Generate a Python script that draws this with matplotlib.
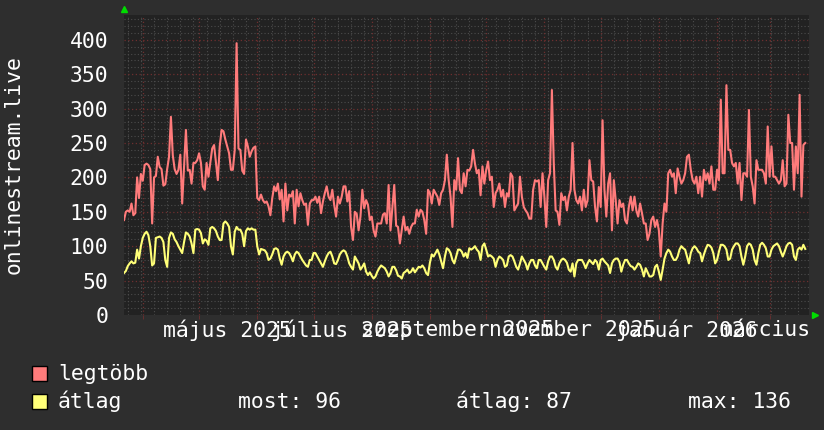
import matplotlib
matplotlib.use("Agg")
import matplotlib.pyplot as plt
import pandas as pd
from matplotlib.patches import Rectangle

plt.rcParams['font.family'] = ['DejaVu Sans Mono']

# daily values, 2025-03-22 .. 2026-03-20
legtobb = [
    138, 150, 152, 150, 162, 145, 148, 200, 170, 205, 195, 218, 220, 218, 212, 133, 200, 202, 230, 215,
    212, 188, 190, 212, 230, 288, 232, 212, 205, 211, 233, 162, 215, 269, 210, 211, 191, 221, 221, 225,
    235, 221, 187, 182, 221, 201, 221, 242, 247, 221, 196, 245, 269, 267, 255, 245, 235, 211, 211, 240,
    395, 242, 240, 210, 205, 255, 245, 230, 238, 243, 245, 170, 167, 175, 167, 163, 165, 158, 145, 170,
    187, 180, 191, 168, 182, 136, 191, 152, 175, 172, 180, 133, 182, 158, 177, 167, 160, 162, 131, 162,
    167, 167, 172, 163, 172, 148, 165, 177, 187, 172, 167, 182, 160, 143, 172, 162, 172, 187, 187, 165,
    180, 128, 109, 150, 147, 123, 143, 182, 155, 167, 160, 138, 143, 123, 114, 133, 133, 133, 146, 148,
    133, 189, 123, 157, 189, 130, 128, 104, 123, 143, 123, 128, 118, 128, 133, 133, 153, 143, 153, 150,
    138, 118, 182, 177, 162, 182, 177, 172, 160, 177, 182, 196, 233, 196, 172, 128, 196, 182, 228, 182,
    177, 206, 187, 211, 210, 216, 240, 220, 206, 211, 174, 216, 191, 211, 223, 196, 201, 157, 177, 182,
    191, 172, 182, 157, 177, 172, 206, 201, 152, 157, 162, 201, 172, 157, 152, 148, 140, 140, 182, 196,
    194, 196, 157, 206, 172, 128, 196, 206, 327, 221, 152, 150, 131, 177, 167, 172, 152, 172, 182, 250,
    182, 167, 162, 172, 152, 182, 157, 167, 225, 196, 194, 157, 136, 186, 157, 283, 182, 143, 191, 206,
    123, 196, 167, 133, 167, 157, 162, 138, 133, 157, 172, 152, 172, 152, 143, 162, 148, 133, 133, 109,
    118, 138, 143, 128, 138, 123, 85, 133, 162, 150, 206, 211, 201, 206, 177, 213, 201, 191, 196, 206,
    230, 233, 211, 196, 191, 201, 177, 201, 172, 211, 196, 206, 191, 216, 182, 182, 211, 196, 313, 206,
    206, 334, 240, 240, 221, 216, 221, 191, 221, 167, 206, 206, 201, 298, 201, 187, 162, 225, 211, 211,
    211, 206, 191, 274, 201, 245, 201, 201, 196, 191, 196, 225, 187, 191, 291, 250, 250, 182, 245, 206,
    320, 172, 247, 250,
]

atlag = [
    61, 64, 71, 75, 78, 75, 76, 95, 82, 100, 112, 118, 121, 116, 100, 72, 75, 112, 113, 114,
    112, 106, 80, 70, 112, 120, 118, 110, 106, 100, 95, 90, 106, 120, 118, 114, 104, 90, 124, 125,
    124, 119, 104, 110, 108, 102, 126, 128, 126, 122, 114, 109, 109, 133, 136, 133, 128, 100, 88, 121,
    128, 124, 124, 118, 100, 122, 126, 124, 126, 124, 124, 100, 88, 96, 95, 94, 90, 80, 82, 88,
    96, 97, 95, 82, 73, 85, 90, 92, 90, 85, 78, 88, 92, 90, 85, 80, 76, 72, 70, 80,
    80, 90, 90, 85, 80, 75, 70, 78, 85, 90, 92, 85, 75, 74, 80, 88, 92, 94, 92, 85,
    75, 70, 66, 85, 80, 75, 66, 70, 75, 63, 58, 62, 57, 53, 56, 63, 68, 72, 70, 68,
    63, 56, 61, 70, 70, 65, 57, 56, 53, 61, 63, 66, 61, 63, 68, 62, 66, 70, 69, 72,
    68, 61, 58, 76, 88, 85, 90, 95, 88, 78, 68, 85, 97, 95, 90, 80, 75, 85, 95, 95,
    92, 85, 90, 83, 97, 95, 97, 100, 95, 92, 80, 100, 104, 95, 85, 87, 85, 82, 70, 80,
    85, 83, 80, 70, 72, 85, 87, 85, 78, 70, 66, 75, 85, 80, 75, 66, 75, 80, 80, 72,
    68, 80, 80, 75, 70, 66, 78, 85, 85, 80, 70, 66, 75, 80, 82, 80, 76, 66, 63, 75,
    56, 75, 80, 80, 80, 75, 68, 75, 80, 77, 74, 80, 77, 66, 80, 82, 78, 75, 72, 61,
    75, 80, 82, 82, 77, 63, 73, 80, 80, 75, 71, 70, 66, 70, 75, 73, 66, 56, 68, 62,
    56, 56, 58, 70, 73, 63, 51, 66, 82, 90, 95, 92, 85, 80, 80, 85, 95, 100, 97, 95,
    85, 75, 90, 97, 100, 97, 92, 90, 78, 88, 96, 102, 101, 98, 90, 75, 80, 92, 102, 102,
    100, 95, 80, 82, 95, 100, 104, 104, 100, 85, 73, 85, 100, 104, 102, 95, 80, 73, 90, 102,
    105, 102, 97, 85, 85, 95, 100, 102, 104, 100, 92, 85, 92, 100, 104, 105, 102, 85, 80, 95,
    98, 95, 102, 96,
]

label_dates = ['2025-05-16', '2025-07-16', '2025-09-16', '2025-11-16', '2026-01-16', '2026-03-16']
label_texts = ['május 2025', 'július 2025', 'szeptember 2025', 'november 2025', 'január 2026', 'március 2026']
y_ticks = [0, 50, 100, 150, 200, 250, 300, 350, 400]
stats = ['most: 96', 'átlag: 87', 'max: 136']

BG = '#2e2e2e'
PLOT_BG = '#222222'
PINK = '#ff7b7b'
YELLOW = '#ffff78'
MINOR = '#4c4c4c'
MAJOR = '#6e2f2f'
FS = 15.4
W, H = 824, 430

fig = plt.figure(figsize=(W / 100, H / 100), dpi=100, facecolor=BG)
ax = fig.add_axes([124 / W, 1 - 315 / H, 685 / W, 300 / H])
ax.set_facecolor(PLOT_BG)
for s in ax.spines.values():
    s.set_visible(False)

start = pd.Timestamp('2025-03-22')
dates = pd.date_range(start, periods=len(legtobb), freq='D')
ax.set_xlim(start, pd.Timestamp('2026-03-22'))
ax.set_ylim(0, 436)

dot = (0, (1, 2))
for y in range(10, 436, 10):
    if y % 50:
        ax.axhline(y, color=MINOR, ls=dot, lw=0.8, zorder=1)
mondays = pd.date_range('2025-03-24', '2026-03-21', freq='W-MON')
for d in mondays:
    ax.axvline(d, color=MINOR, ls=dot, lw=0.8, zorder=1)
month_starts = pd.date_range('2025-04-01', '2026-03-01', freq='MS')
for d in month_starts:
    ax.axvline(d, color=MAJOR, ls=dot, lw=0.9, zorder=2)
for y in y_ticks[1:]:
    ax.axhline(y, color=MAJOR, ls=dot, lw=0.9, zorder=2)

ax.plot(dates, legtobb, color=PINK, lw=1.5, zorder=4)
ax.plot(dates, atlag, color=YELLOW, lw=1.5, zorder=5)

ax.set_yticks(y_ticks)
ax.tick_params(axis='y', length=0, pad=11.5, labelsize=FS, labelcolor='white')
ax.set_xticks(pd.to_datetime(label_dates), label_texts)
ax.set_xticks(month_starts, minor=True)
ax.tick_params(axis='x', which='major', length=0, pad=3.5, labelsize=FS, labelcolor='white')
ax.tick_params(axis='x', which='minor', length=3, color=MAJOR, direction='out')

# rrdtool style arrows
ax.plot([0], [1.02], marker='^', ms=5, color='#00dd00', transform=ax.transAxes, clip_on=False)
ax.plot([1.009], [0], marker='>', ms=5, color='#00dd00', transform=ax.transAxes, clip_on=False)

fig.text(14 / W, 1 - 165 / H, 'onlinestream.live', rotation=90, color='white',
         fontsize=FS, ha='center', va='center')

# legend
for i, (col, name) in enumerate([(PINK, 'legtöbb'), (YELLOW, 'átlag')]):
    top = 366 + 28 * i
    fig.add_artist(Rectangle((32 / W, 1 - (top + 15) / H), 15 / W, 15 / H,
                             transform=fig.transFigure, facecolor=col, edgecolor='black', lw=1))
    fig.text(58 / W, 1 - (380 + 28 * i) / H, name, color='white', fontsize=FS, va='baseline')

for x, s in zip([238, 456, 688], stats):
    fig.text(x / W, 1 - 408 / H, s, color='white', fontsize=FS, va='baseline')

fig.savefig('out.png', dpi=100, facecolor=BG)
